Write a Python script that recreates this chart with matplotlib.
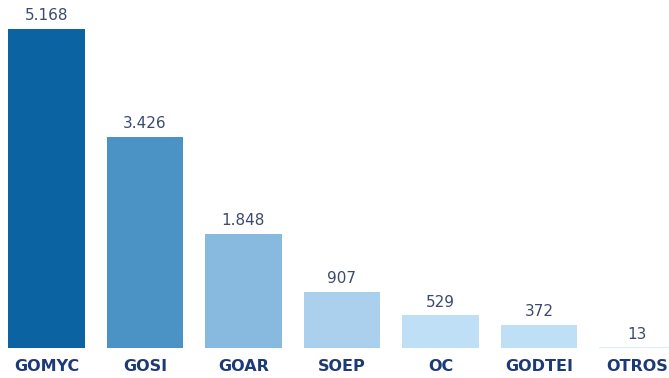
import matplotlib.pyplot as plt

categories = ["GOMYC", "GOSI", "GOAR", "SOEP", "OC", "GODTEI", "OTROS"]
values = [5168, 3426, 1848, 907, 529, 372, 13]
colors = ["#0b63a2", "#4b93c5", "#88b9de", "#abd0ed", "#bfdff6", "#bfdff6", "#dcedf9"]

plt.rcParams["font.family"] = ["DejaVu Sans"]

fig = plt.figure(figsize=(6.69, 3.78), dpi=100)
ax = fig.add_axes([0, 30 / 378, 1, 348 / 378])

x = range(len(categories))
bars = ax.bar(x, values, width=0.78, color=colors)

for bar, v in zip(bars, values):
    ax.annotate(f"{v:,}".replace(",", "."),
                (bar.get_x() + bar.get_width() / 2, v),
                xytext=(0, 4), textcoords="offset points",
                ha="center", va="bottom", fontsize=11, color="#3b4a6e")

for i, name in enumerate(categories):
    ax.text(i, -0.031, name, transform=ax.get_xaxis_transform(),
            ha="center", va="top", fontsize=11.5, fontweight="bold",
            color="#1d3a78")

ax.set_xlim(-0.472, 6.32)
ax.set_ylim(0, 5638)
ax.axis("off")

fig.savefig("out.png", dpi=100)
